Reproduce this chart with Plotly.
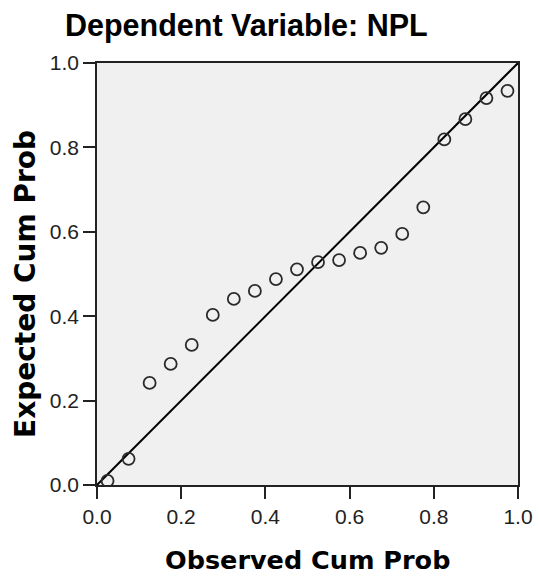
import plotly.graph_objects as go

observed = [0.025, 0.075, 0.125, 0.175, 0.225, 0.275, 0.325, 0.375, 0.425, 0.475,
            0.525, 0.575, 0.625, 0.675, 0.725, 0.775, 0.825, 0.875, 0.925, 0.975]
expected = [0.010, 0.062, 0.242, 0.287, 0.332, 0.403, 0.441, 0.460, 0.488, 0.511,
            0.528, 0.533, 0.550, 0.562, 0.595, 0.658, 0.819, 0.867, 0.917, 0.934]
ref_line = [0.0, 1.0]
tick_vals = [0.0, 0.2, 0.4, 0.6, 0.8, 1.0]
tick_text = ["0.0", "0.2", "0.4", "0.6", "0.8", "1.0"]

fig = go.Figure()
fig.add_trace(go.Scatter(x=ref_line, y=ref_line, mode="lines",
                         line=dict(color="black", width=2), hoverinfo="skip"))
fig.add_trace(go.Scatter(x=observed, y=expected, mode="markers",
                         marker=dict(symbol="circle-open", size=12, color="#2a2a2a",
                                     line=dict(width=1.8))))

axis_common = dict(range=[0, 1], tickvals=tick_vals, ticktext=tick_text,
                   showline=True, linecolor="#222222", linewidth=1.6, mirror=True,
                   ticks="outside", ticklen=12, tickwidth=2, tickcolor="#222222",
                   showgrid=False, zeroline=False, automargin=False,
                   tickfont=dict(family="Liberation Sans, Arial", size=21, color="#222222"))

fig.update_layout(
    width=539, height=580,
    margin=dict(l=97, r=21, t=63, b=95, autoexpand=False),
    paper_bgcolor="white", plot_bgcolor="#f0f0f0",
    showlegend=False,
    xaxis=axis_common, yaxis=axis_common,
    annotations=[
        dict(text="<b>Dependent Variable: NPL</b>", xref="paper", yref="paper",
             x=(246.5 - 97) / 421, y=1 + (63 - 25) / 422, xanchor="center", yanchor="middle",
             showarrow=False, font=dict(family="Liberation Sans, Arial", size=30.5, color="black")),
        dict(text="<b>Observed Cum Prob</b>", xref="paper", yref="paper",
             x=(307.5 - 97) / 421, y=-(560 - 485) / 422, xanchor="center", yanchor="middle",
             showarrow=False, font=dict(family="DejaVu Sans", size=25.5, color="black")),
        dict(text="<b>Expected Cum Prob</b>", xref="paper", yref="paper",
             x=(25 - 97) / 421, y=(485 - 284) / 422, xanchor="center", yanchor="middle",
             textangle=-90, showarrow=False,
             font=dict(family="DejaVu Sans", size=28, color="black")),
    ],
)

fig.write_html("out.html", config={"displayModeBar": False},
               post_script="document.body.style.margin='0';document.body.style.overflow='hidden';")
